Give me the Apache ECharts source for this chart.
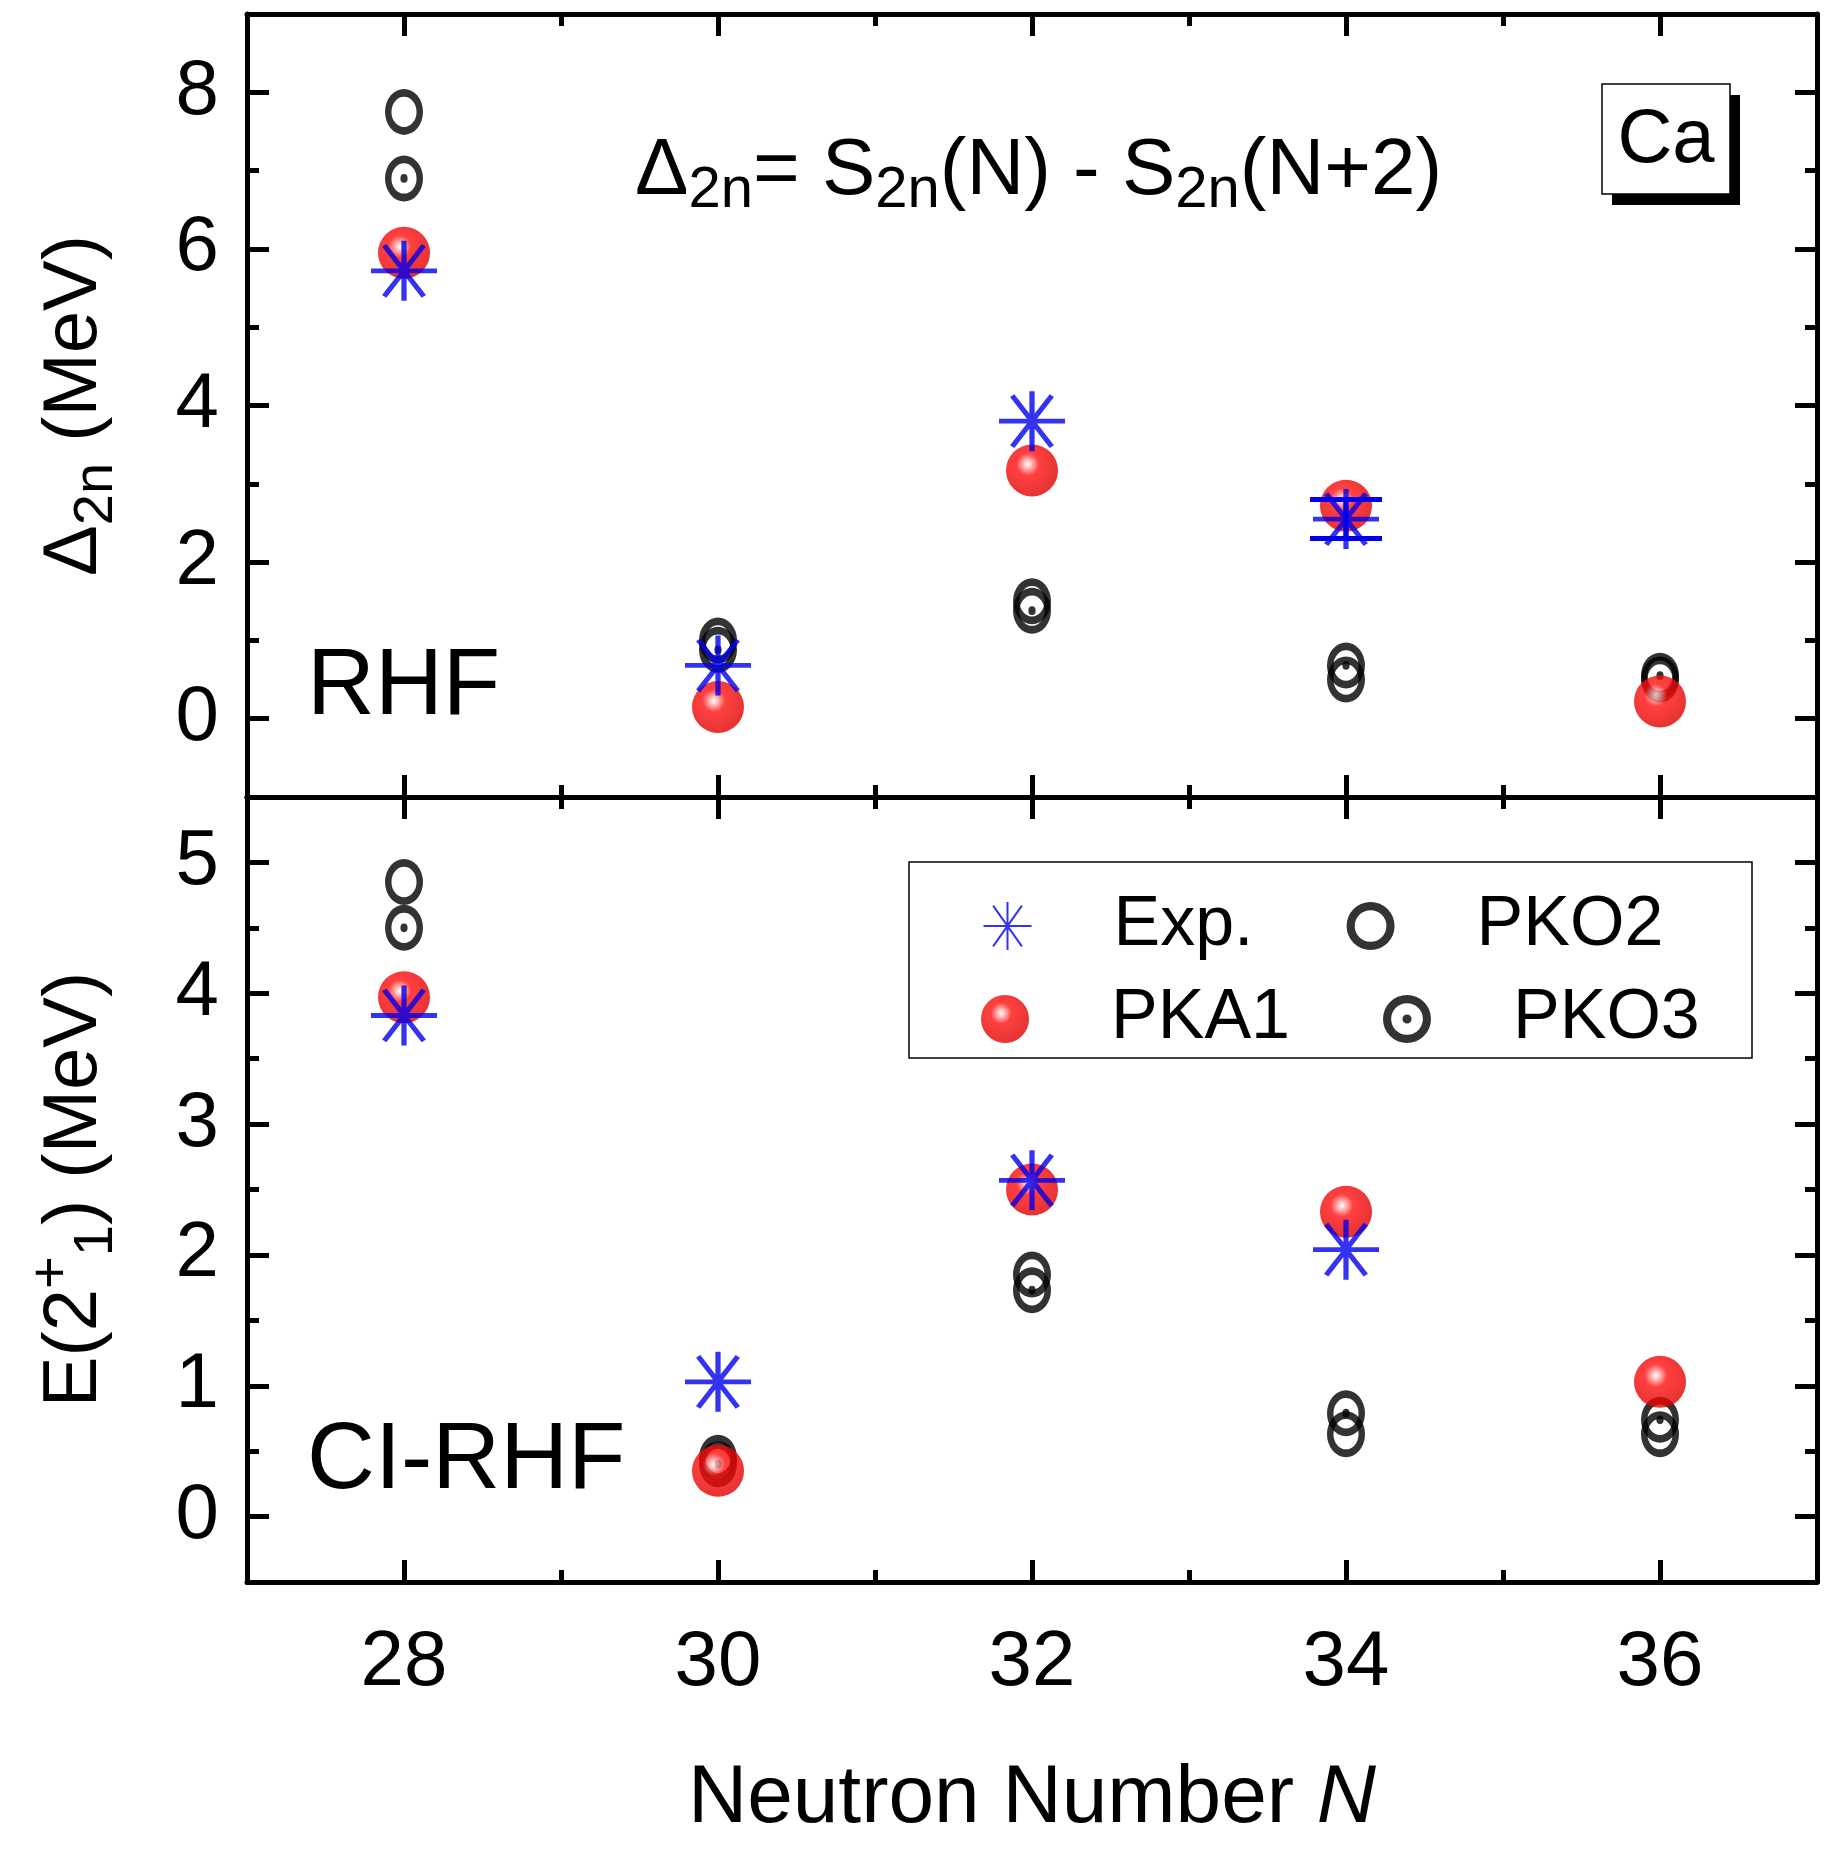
<!DOCTYPE html>
<html>
<head>
<meta charset="utf-8">
<script src="https://cdn.jsdelivr.net/npm/echarts@6.0.0/dist/echarts.min.js"></script>
<style>html,body{margin:0;padding:0;background:#fff}#chart{width:1835px;height:1852px}</style>
</head>
<body>
<div id="chart"></div>
<script>
"use strict";
// neutron numbers
const N = [28, 30, 32, 34, 36];
// upper panel: Delta_2n (MeV)
const d2nExp  = [5.72, 0.68, 3.80, 2.55, null];
const d2nExpErr = [null, null, null, [2.30, 2.80], null];
const d2nPKA1 = [5.95, 0.15, 3.17, 2.72, 0.22];
const d2nPKO2 = [7.75, 1.00, 1.50, 0.50, 0.50];
const d2nPKO3 = [6.90, 0.88, 1.38, 0.68, 0.55];
// lower panel: E(2+_1) (MeV)
const e2Exp  = [3.83, 1.03, 2.57, 2.04, null];
const e2PKA1 = [3.97, 0.35, 2.50, 2.33, 1.03];
const e2PKO2 = [4.85, 0.45, 1.85, 0.63, 0.63];
const e2PKO3 = [4.50, 0.40, 1.73, 0.79, 0.74];
// ticks
const xMajor = [28, 30, 32, 34, 36];
const xMinor = [29, 31, 33, 35];
const y1Major = [0, 2, 4, 6, 8];
const y1Minor = [1, 3, 5, 7];
const y2Major = [0, 1, 2, 3, 4, 5];
const y2Minor = [0.5, 1.5, 2.5, 3.5, 4.5];

const pts = (vals) => N.map((n, i) => vals[i] == null ? null : [n, vals[i]]).filter(Boolean);

const chart = echarts.init(document.getElementById('chart'));
const FONT = 'Liberation Sans, Arial, sans-serif';

const ringPath = 'path://M0,-10 A10,10 0 1,1 0,10 A10,10 0 1,1 0,-10 Z M0,-6.6 A6.6,6.6 0 1,0 0,6.6 A6.6,6.6 0 1,0 0,-6.6 Z';
const dotRingPath = ringPath + ' M0,-1.9 A1.9,1.9 0 1,1 0,1.9 A1.9,1.9 0 1,1 0,-1.9 Z';
const starPath = 'path://M0,-10 L0,10 M-10,0 L10,0 M-6,-8.5 L6,8.5 M-6,8.5 L6,-8.5';
const ball = {
  type: 'radial', x: 0.42, y: 0.38, r: 0.62,
  colorStops: [
    { offset: 0, color: '#ffffff' }, { offset: 0.12, color: '#ffb0b0' },
    { offset: 0.35, color: '#ff1010' }, { offset: 1, color: '#e00000' }
  ]
};

function mkAxis(kind, gi, pos, min, max, ticks, len, showLine, labels) {
  return {
    type: 'value', gridIndex: gi, position: pos, min: min, max: max,
    axisLine: { show: showLine, onZero: false, lineStyle: { color: '#000', width: 5 } },
    axisTick: { show: true, inside: true, length: len, customValues: ticks, lineStyle: { color: '#000', width: 5 } },
    axisLabel: { show: !!labels, customValues: ticks, color: '#000', fontSize: 78, fontFamily: FONT, margin: kind === 'x' ? 42 : 28 },
    splitLine: { show: false }
  };
}

const xAxis = [];
const yAxis = [];
[0, 1].forEach(gi => {
  xAxis.push(mkAxis('x', gi, 'bottom', 27, 37, xMajor, 22, true, gi === 1));
  xAxis.push(mkAxis('x', gi, 'bottom', 27, 37, xMinor, 12, false, false));
  xAxis.push(mkAxis('x', gi, 'top', 27, 37, xMajor, 22, true, false));
  xAxis.push(mkAxis('x', gi, 'top', 27, 37, xMinor, 12, false, false));
});
yAxis.push(mkAxis('y', 0, 'left', -1, 9, y1Major, 22, true, true));
yAxis.push(mkAxis('y', 0, 'left', -1, 9, y1Minor, 12, false, false));
yAxis.push(mkAxis('y', 0, 'right', -1, 9, y1Major, 22, true, false));
yAxis.push(mkAxis('y', 0, 'right', -1, 9, y1Minor, 12, false, false));
yAxis.push(mkAxis('y', 1, 'left', -0.5, 5.5, y2Major, 22, true, true));
yAxis.push(mkAxis('y', 1, 'left', -0.5, 5.5, y2Minor, 12, false, false));
yAxis.push(mkAxis('y', 1, 'right', -0.5, 5.5, y2Major, 22, true, false));
yAxis.push(mkAxis('y', 1, 'right', -0.5, 5.5, y2Minor, 12, false, false));

yAxis[0].name = '{d|Δ}{s|2n} (MeV)';
yAxis[4].name = 'E(2{p|+}{s|1}) (MeV)';
[0, 4].forEach(i => {
  Object.assign(yAxis[i], {
    nameLocation: 'middle', nameGap: 122, nameRotate: 90,
    nameTextStyle: {
      color: '#000', fontSize: 76, fontFamily: FONT, lineHeight: 100,
      rich: {
        d: { fontSize: 76, fontFamily: FONT, color: '#000', lineHeight: 100 },
        s: { fontSize: 56, fontFamily: FONT, color: '#000', verticalAlign: 'bottom', lineHeight: 100 },
        p: { fontSize: 56, fontFamily: FONT, color: '#000', verticalAlign: 'top', lineHeight: 100 }
      }
    }
  });
});
Object.assign(xAxis[4], {
  name: '{a|Neutron Number }{i|N}', nameLocation: 'middle', nameGap: 176,
  nameTextStyle: { rich: {
    a: { fontSize: 82, fontFamily: FONT, color: '#000' },
    i: { fontSize: 82, fontFamily: FONT, color: '#000', fontStyle: 'italic' }
  } }
});

function group(gi, exp, pka, pko2, pko3) {
  const xi = gi * 4, yi = gi * 4;
  return [
    { name: 'PKO2', type: 'scatter', xAxisIndex: xi, yAxisIndex: yi, data: pts(pko2),
      symbol: ringPath, symbolSize: [38, 46], itemStyle: { color: '#000' }, z: 2 },
    { name: 'PKO3', type: 'scatter', xAxisIndex: xi, yAxisIndex: yi, data: pts(pko3),
      symbol: dotRingPath, symbolSize: [38, 46], itemStyle: { color: '#000' }, z: 2 },
    { name: 'PKA1', type: 'scatter', xAxisIndex: xi, yAxisIndex: yi, data: pts(pka),
      symbol: 'circle', symbolSize: 52, itemStyle: { color: ball }, z: 3 },
    { name: 'Exp.', type: 'scatter', xAxisIndex: xi, yAxisIndex: yi, data: pts(exp),
      symbol: starPath, symbolSize: [66, 60],
      itemStyle: { color: 'none', borderColor: '#0000ee', borderWidth: 5 }, z: 4 }
  ];
}

const series = group(0, d2nExp, d2nPKA1, d2nPKO2, d2nPKO3).concat(group(1, e2Exp, e2PKA1, e2PKO2, e2PKO3));
series.push({
  type: 'custom', xAxisIndex: 0, yAxisIndex: 0, z: 4, silent: true,
  data: N.map((n, i) => d2nExpErr[i] ? [n, d2nExpErr[i][0], d2nExpErr[i][1]] : null).filter(Boolean),
  renderItem: (params, api) => {
    const lo = api.coord([api.value(0), api.value(1)]);
    const hi = api.coord([api.value(0), api.value(2)]);
    const w = 36, st = { stroke: '#0000ee', lineWidth: 5 };
    return { type: 'group', children: [
      { type: 'line', shape: { x1: lo[0], y1: lo[1], x2: hi[0], y2: hi[1] }, style: st },
      { type: 'line', shape: { x1: lo[0] - w, y1: lo[1], x2: lo[0] + w, y2: lo[1] }, style: st },
      { type: 'line', shape: { x1: hi[0] - w, y1: hi[1], x2: hi[0] + w, y2: hi[1] }, style: st }
    ] };
  }
});

const legendRow = (names, top) => ({
  data: names, left: 981, top: top, orient: 'horizontal', z: 10,
  padding: 0, itemGap: 93, itemWidth: 48, itemHeight: 48,
  textStyle: { fontSize: 70, fontFamily: FONT, color: '#000', width: 204, padding: [0, 0, 0, 77] }
});

chart.setOption({
  animation: false,
  grid: [
    { left: 247, right: 18, top: 14, height: 783 },
    { left: 247, right: 18, top: 797, height: 785 }
  ],
  xAxis: xAxis,
  yAxis: yAxis,
  legend: [legendRow(['Exp.', 'PKO2'], 891), legendRow(['PKA1', 'PKO3'], 984)],
  graphic: [
    { type: 'rect', z: 1, shape: { x: 909, y: 862, width: 843, height: 196 }, style: { fill: '#fff', stroke: '#000', lineWidth: 1.5 } },
    { type: 'text', left: 635, top: 132, style: {
      text: '{n|Δ}{s|2n}{n|= S}{s|2n}{n|(N) - S}{s|2n}{n|(N+2)}',
      rich: {
        n: { fontSize: 80, fontFamily: FONT, fill: '#000', lineHeight: 96 },
        s: { fontSize: 58, fontFamily: FONT, fill: '#000', verticalAlign: 'bottom', lineHeight: 96 }
      } } },
    { type: 'rect', shape: { x: 1612, y: 95, width: 128, height: 110 }, style: { fill: '#000' } },
    { type: 'rect', shape: { x: 1602, y: 84, width: 128, height: 110 }, style: { fill: '#fff', stroke: '#000', lineWidth: 1.5 } },
    { type: 'text', x: 1666, y: 141, style: { text: 'Ca', fontSize: 76, fontFamily: FONT, fill: '#000', align: 'center', verticalAlign: 'middle' } },
    { type: 'text', x: 307, y: 688, style: { text: 'RHF', fontSize: 94, fontFamily: FONT, fill: '#000', verticalAlign: 'middle' } },
    { type: 'text', x: 307, y: 1462, style: { text: 'CI-RHF', fontSize: 94, fontFamily: FONT, fill: '#000', verticalAlign: 'middle' } }
  ],
  series: series
});
</script>
</body>
</html>
